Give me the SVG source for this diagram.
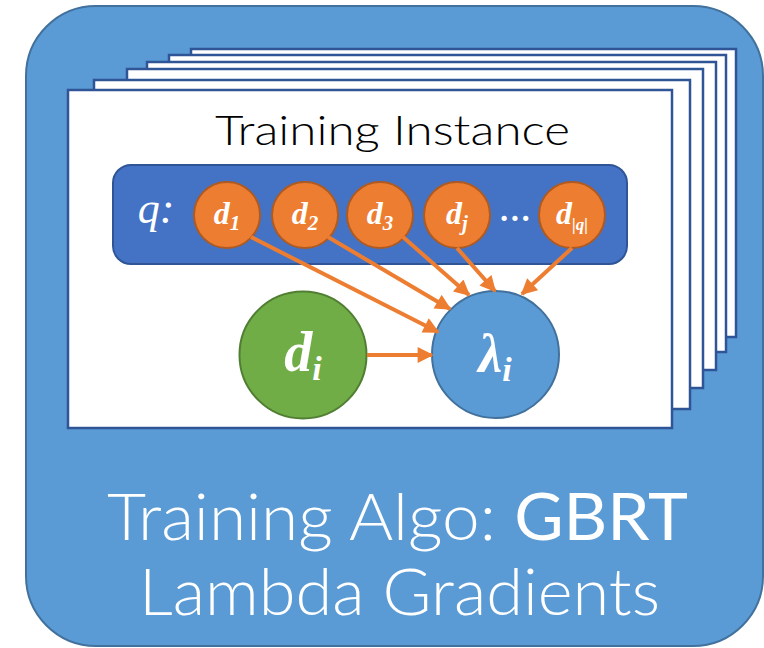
<svg xmlns="http://www.w3.org/2000/svg" width="764" height="648" viewBox="0 0 764 648">
  <defs>
    <style>
      .page { fill: #ffffff; stroke: #2F5597; stroke-width: 2.5; }
      .doc { fill: #ED7D31; stroke: #AE5A21; stroke-width: 2; }
      .lbl { font-family: "Liberation Serif", "Times New Roman", serif; font-weight: bold; font-style: italic; fill: #ffffff; }
      .sans { font-family: Lato, "Open Sans", "Liberation Sans", sans-serif; }
      .edge { stroke: #ED7D31; stroke-width: 4; fill: none; marker-end: url(#arrow); }
    </style>
    <marker id="arrow" viewBox="0 0 10 10" refX="9" refY="5" markerWidth="4.2" markerHeight="4" orient="auto" markerUnits="strokeWidth">
      <path d="M0,0 L10,5 L0,10 Z" fill="#ED7D31"/>
    </marker>
  </defs>

  <g id="outer">
    <rect x="26" y="6" width="737" height="640" rx="70" ry="70" fill="#5B9BD5" stroke="#41719C" stroke-width="2"/>
  </g>

  <g id="pages">
    <rect class="page" x="191" y="49" width="545" height="288"/>
    <rect class="page" x="169" y="55" width="557" height="297"/>
    <rect class="page" x="147" y="62" width="569" height="308"/>
    <rect class="page" x="127" y="69" width="576" height="319"/>
    <rect class="page" x="94" y="80" width="596" height="329"/>
    <rect class="page" x="68" y="90" width="604" height="338"/>
  </g>

  <g id="title">
    <text class="sans" x="215" y="145" font-size="41" font-weight="300" fill="#000000" textLength="355" lengthAdjust="spacingAndGlyphs">Training Instance</text>
  </g>

  <g id="query">
    <rect x="113" y="165" width="514" height="99" rx="18" ry="18" fill="#4472C4" stroke="#2F5597" stroke-width="2"/>
    <text x="156" y="223" font-family="Liberation Serif, Times New Roman, serif" font-style="italic" font-size="44" fill="#ffffff" text-anchor="middle">q:</text>
    <text class="lbl" x="516" y="221" font-size="32" text-anchor="middle">…</text>
  </g>

  <g id="d1">
    <circle class="doc" cx="227" cy="215" r="33"/>
    <text class="lbl" x="227" y="224" font-size="32" text-anchor="middle">d<tspan font-size="21" dy="6">1</tspan></text>
  </g>
  <g id="d2">
    <circle class="doc" cx="305" cy="215" r="33"/>
    <text class="lbl" x="305" y="224" font-size="32" text-anchor="middle">d<tspan font-size="21" dy="6">2</tspan></text>
  </g>
  <g id="d3">
    <circle class="doc" cx="380" cy="215" r="33"/>
    <text class="lbl" x="380" y="224" font-size="32" text-anchor="middle">d<tspan font-size="21" dy="6">3</tspan></text>
  </g>
  <g id="dj">
    <circle class="doc" cx="457" cy="215" r="33"/>
    <text class="lbl" x="457" y="224" font-size="32" text-anchor="middle">d<tspan font-size="21" dy="6">j</tspan></text>
  </g>
  <g id="dq">
    <circle class="doc" cx="572" cy="215" r="33"/>
    <text class="lbl" x="572" y="224" font-size="32" text-anchor="middle">d<tspan font-size="17" dy="6">|q|</tspan></text>
  </g>

  <g id="di">
    <circle cx="303" cy="355" r="63.5" fill="#70AD47" stroke="#507E32" stroke-width="2"/>
    <text class="lbl" x="303" y="371" font-size="56" text-anchor="middle">d<tspan font-size="34" dy="9">i</tspan></text>
  </g>
  <g id="lambda">
    <circle cx="495.5" cy="354.5" r="63.5" fill="#5B9BD5" stroke="#41719C" stroke-width="2"/>
    <text class="lbl" x="495" y="372" font-size="54" text-anchor="middle">λ<tspan font-size="34" dy="9">i</tspan></text>
  </g>

  <g id="connectors">
    <line class="edge" x1="251" y1="237" x2="438" y2="332"/>
    <line class="edge" x1="328" y1="237" x2="450" y2="309"/>
    <line class="edge" x1="403" y1="237" x2="469" y2="295"/>
    <line class="edge" x1="457" y1="248" x2="495" y2="291"/>
    <line class="edge" x1="572" y1="248" x2="522" y2="294"/>
    <line class="edge" x1="367" y1="355" x2="432" y2="355"/>
  </g>

  <g id="caption">
    <text class="sans" x="107" y="540" font-size="66" fill="#ffffff" font-weight="300" textLength="581" lengthAdjust="spacingAndGlyphs">Training Algo: <tspan font-weight="400">GBRT</tspan></text>
    <text class="sans" x="139" y="615" font-size="66" fill="#ffffff" font-weight="300" textLength="521" lengthAdjust="spacingAndGlyphs">Lambda Gradients</text>
  </g>
</svg>
